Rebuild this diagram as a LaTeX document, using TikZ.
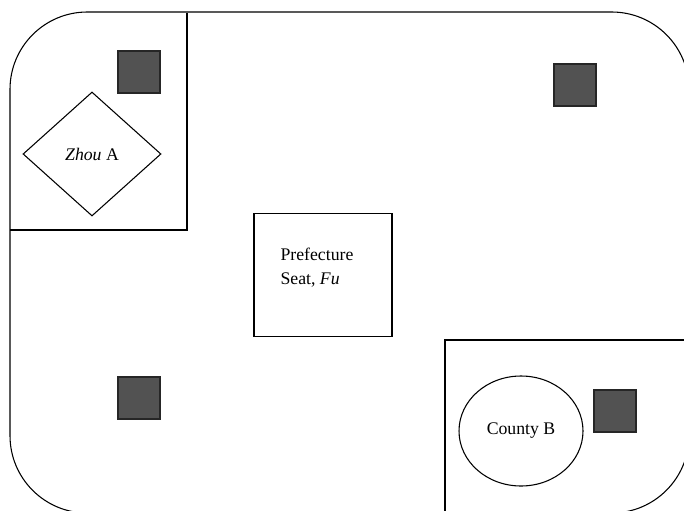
\documentclass[tikz,border=0pt]{standalone}
\usepackage{fontspec}
\setmainfont{Liberation Serif}
\usetikzlibrary{shapes.geometric}
\tikzset{
    village/.style={draw=black!85, fill=black!68, minimum size=31.5pt, inner sep=0pt},
    region/.style={draw, line width=0.8pt},
}
\begin{document}
\begin{tikzpicture}[x=0.75pt, y=-0.75pt, line width=0.8pt, font=\fontsize{13.3}{18}\selectfont]
    \useasboundingbox (0,0) rectangle (684,510);
    \clip (0,0) rectangle (684,510);
    \draw[rounded corners=58pt] (10,12) rectangle (689,513);
    % Zhou A corner
    \draw (187,13) -- (187,230) -- (10,230);
    \node[region, diamond, minimum width=103.5pt, minimum height=93pt, inner sep=0pt] (zhou) at (92,154) {};
    \node (zhoutext) at (zhou) {\textit{Zhou} A};
    \node[village] (v1) at (139,72) {};
    % prefecture seat
    \node[region, rectangle, minimum width=103.5pt, minimum height=92pt] (fu) at (323,275) {};
    \node[align=left, inner sep=0pt] (futext) at (317,268) {Prefecture\\Seat, \textit{Fu}};
    \node[village] (v2) at (575,85) {};
    \node[village] (v3) at (139,398) {};
    % County B corner
    \draw (684,340) -- (445,340) -- (445,511);
    \node[region, ellipse, minimum width=93pt, minimum height=82.5pt, inner sep=0pt] (county) at (521,431) {County B};
    \node[village] (v4) at (615,411) {};
\end{tikzpicture}
\end{document}
